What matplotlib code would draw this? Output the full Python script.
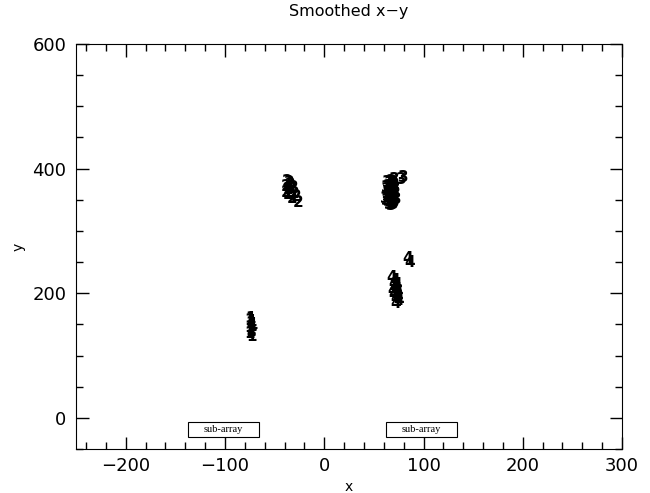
import matplotlib
matplotlib.use('Agg')
import matplotlib.pyplot as plt
from matplotlib.patches import Rectangle
from matplotlib.ticker import MultipleLocator

# cluster positions, one label per cluster
x1 = [-75, -74, -73, -75, -74, -72, -73, -74, -75, -73, -74, -73, -74]
y1 = [157, 152, 148, 145, 142, 150, 154, 138, 135, 146, 140, 131, 160]

x2 = [-37, -35, -38, -33, -36, -31, -34, -30, -36, -28, -32, -26, -38, -34]
y2 = [380, 377, 372, 370, 366, 369, 362, 360, 358, 355, 352, 346, 362, 374]

x3 = [64, 66, 68, 70, 65, 67, 69, 71, 63, 66, 68, 70, 72, 64, 66, 68, 70, 65,
      67, 69, 71, 63, 65, 67, 69, 71, 66, 68, 70, 64, 67, 69, 72, 80, 78,
      62, 63, 73, 71, 69, 67]
y3 = [378, 376, 379, 377, 372, 370, 373, 371, 366, 365, 367, 364, 368, 360,
      359, 361, 358, 354, 353, 355, 352, 349, 347, 346, 348, 345, 342, 341,
      343, 356, 363, 374, 360, 385, 382, 352, 370, 350, 382, 344, 357]

x4 = [68, 70, 72, 69, 71, 73, 74, 72, 75, 70, 73, 71, 74, 72, 84, 86, 71, 73]
y4 = [226, 216, 211, 205, 200, 206, 195, 192, 188, 198, 214, 220, 203, 183,
      255, 250, 209, 197]

clusters = [(x1, y1, '1'), (x2, y2, '2'), (x3, y3, '3'), (x4, y4, '4')]

# sub-array boxes (x range, y range)
box_x = [(-137, -66), (62, 134)]
box_y = (-30, -6)

fig = plt.figure(figsize=(6.5, 4.93), dpi=100)
ax = fig.add_axes([0.117, 0.0892, 0.84, 0.8216])

for xs, ys, lab in clusters:
    for xx, yy in zip(xs, ys):
        ax.text(xx, yy, lab, fontsize=11, fontweight='bold',
                ha='center', va='center', color='black')

for x0, x1b in box_x:
    ax.add_patch(Rectangle((x0, box_y[0]), x1b - x0, box_y[1] - box_y[0],
                           fill=False, edgecolor='black', linewidth=0.8))
    ax.text((x0 + x1b) / 2, (box_y[0] + box_y[1]) / 2, 'sub-array',
            family='Liberation Serif', fontsize=7.5, ha='center', va='center')

ax.set_xlim(-250, 300)
ax.set_ylim(-50, 600)
ax.xaxis.set_major_locator(MultipleLocator(100))
ax.xaxis.set_minor_locator(MultipleLocator(20))
ax.yaxis.set_major_locator(MultipleLocator(200))
ax.yaxis.set_minor_locator(MultipleLocator(50))
ax.tick_params(which='both', direction='in', top=True, right=True, labelsize=13)
ax.tick_params(which='major', length=9, width=1)
ax.tick_params(which='minor', length=5, width=1)
ax.tick_params(axis='x', pad=6)
ax.tick_params(axis='y', pad=7)

ax.set_title('Smoothed x\u2212y', fontsize=11.5, pad=20)
ax.set_xlabel('x', fontsize=10, labelpad=3)
ax.set_ylabel('y', fontsize=10, labelpad=5)

plt.savefig('out.png', dpi=100)
